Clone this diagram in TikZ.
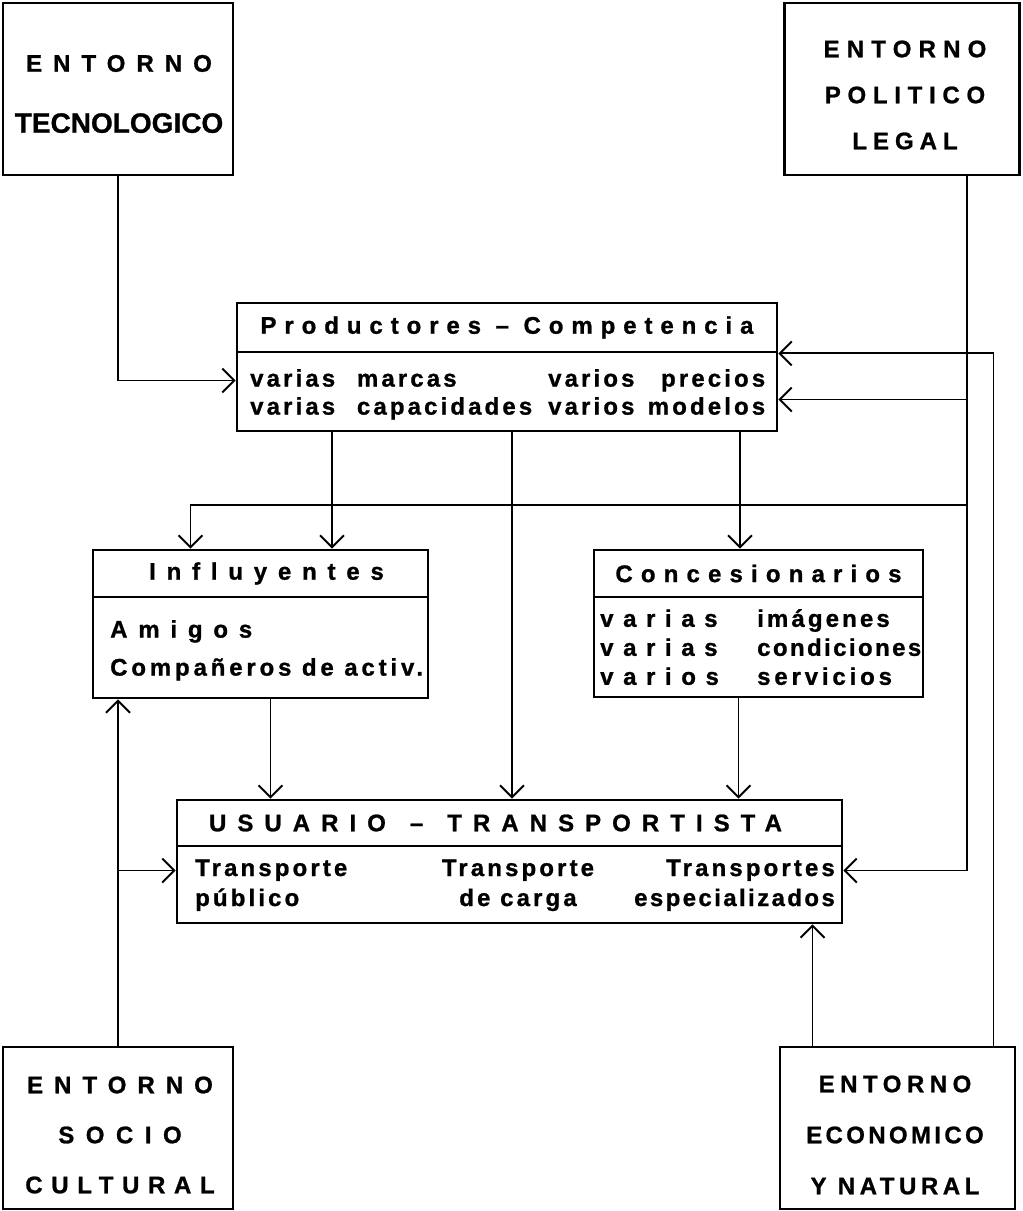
\documentclass[tikz,border=0pt]{standalone}
\usepackage{fontspec}
\setmainfont{Liberation Sans}[BoldFeatures={FakeBold=1}]
\usetikzlibrary{arrows.meta}
\newcommand{\spaced}[2]{{\addfontfeature{LetterSpace=#1}#2}}
\tikzset{
	box/.style={draw, line width=2.8pt, inner sep=0pt},
	conn/.style={line width=1.9pt, -{Straight Barb[length=12pt,width=24pt]}},
	lbl/.style={inner sep=0pt, font=\bfseries\fontsize{24}{28}\selectfont},
}

\begin{document}
\begin{tikzpicture}[x=1pt, y=-1pt]
		%%%%% START %%%%%
		\useasboundingbox (0,0) rectangle (1023,1211);
		
		\node[box, minimum width=230pt, minimum height=172pt, align=center, font=\bfseries\fontsize{24}{61}\selectfont] (tecno) at (118,89) {};
		\node[lbl, align=center, font=\bfseries\fontsize{24}{61}\selectfont] (tecnoL) at (119,94) {\spaced{46}{ENTORNO}\\{\fontsize{28}{61}\selectfont TECNOLOGICO}};
		\node[box, minimum width=235pt, minimum height=172pt, align=center, font=\bfseries\fontsize{24}{46}\selectfont] (polit) at (902,89) {};
		\node[lbl, align=center, font=\bfseries\fontsize{24}{46}\selectfont] (politL) at (905,95) {\spaced{30}{ENTORNO}\\\spaced{28}{POLITICO}\\\spaced{25}{LEGAL}};
		
		\node[box, lbl, minimum width=540pt, minimum height=49pt] (prodT) at (507,327.5) {\spaced{33}{Productores -- Competencia}};
		\node[box, minimum width=540pt, minimum height=79pt] (prod) at (507,391.5) {};
		\node[lbl, anchor=west] (prodA) at (250,395) {\begin{tabular}{@{}l@{}}\spaced{13}{varias\hspace{12pt} marcas}\\\spaced{13}{varias\hspace{12pt} capacidades}\end{tabular}};
		\node[lbl, anchor=west] (prodB) at (548,395) {\begin{tabular}{@{}p{217pt}@{}}\spaced{13}{varios\hfill precios}\\\spaced{13}{varios\hfill modelos}\end{tabular}};
		
		\node[box, lbl, minimum width=335pt, minimum height=47pt] (inflT) at (260.5,573.5) {\hspace*{12pt}\spaced{45}{Influyentes}};
		\node[box, minimum width=335pt, minimum height=101pt] (infl) at (260.5,647.5) {};
		\node[lbl, anchor=west, font=\bfseries\fontsize{24}{38}\selectfont] (inflA) at (110,649) {\begin{tabular}{@{}l@{}}\spaced{45}{Amigos}\\\spaced{16}{Compañeros de activ.}\end{tabular}};
		
		\node[box, lbl, minimum width=329pt, minimum height=47pt] (concT) at (758.5,573.5) {\spaced{34}{Concesionarios}};
		\node[box, minimum width=329pt, minimum height=100pt] (conc) at (758.5,647) {};
		\node[lbl, anchor=west, font=\bfseries\fontsize{24}{29}\selectfont] (concA) at (600,650) {\begin{tabular}{@{}l@{}}\spaced{40}{varias}\\\spaced{40}{varias}\\\spaced{40}{varios}\end{tabular}};
		\node[lbl, anchor=west, font=\bfseries\fontsize{24}{29}\selectfont] (concB) at (757,650) {\begin{tabular}{@{}l@{}}\spaced{13}{imágenes}\\\spaced{10}{condiciones}\\\spaced{16}{servicios}\end{tabular}};
		
		\node[box, lbl, minimum width=665pt, minimum height=46pt] (usuT) at (509.5,823) {\spaced{46}{USUARIO\quad--\quad TRANSPORTISTA}\hspace*{28pt}};
		\node[box, minimum width=665pt, minimum height=77pt] (usu) at (509.5,884.5) {};
		\node[lbl, anchor=west, font=\bfseries\fontsize{24}{30}\selectfont] (usuA) at (195,885) {\begin{tabular}{@{}l@{}}\spaced{13}{Transporte}\\\spaced{13}{público}\end{tabular}};
		\node[lbl, font=\bfseries\fontsize{24}{30}\selectfont] (usuB) at (518,885) {\begin{tabular}{@{}c@{}}\spaced{13}{Transporte}\\\spaced{13}{de carga}\end{tabular}};
		\node[lbl, anchor=east, font=\bfseries\fontsize{24}{30}\selectfont] (usuC) at (835,885) {\begin{tabular}{@{}r@{}}\spaced{13}{Transportes}\\\spaced{10}{especializados}\end{tabular}};
		
		\node[box, minimum width=230pt, minimum height=162pt] (socio) at (118,1128) {};
		\node[lbl, align=center, font=\bfseries\fontsize{24}{50}\selectfont] (socioL) at (120,1135) {\spaced{46}{ENTORNO}\\\spaced{48}{SOCIO}\\\spaced{36}{CULTURAL}};
		\node[box, minimum width=235pt, minimum height=162pt] (econ) at (897.5,1128) {};
		\node[lbl, align=center, font=\bfseries\fontsize{24}{51}\selectfont] (econL) at (895,1135) {\spaced{23}{ENTORNO}\\\spaced{14}{ECONOMICO}\\\spaced{19}{Y NATURAL}};
		
		% connectors
		\coordinate (polB) at ([xshift=65pt]polit.south);
		\coordinate (ecoA) at ([xshift=-85pt]econ.north);
		\coordinate (ecoB) at ([xshift=96pt]econ.north);
		\coordinate (pIn) at ([yshift=-8pt]prod.east);
		\coordinate (iIn) at ([xshift=-70pt]inflT.north);
		\coordinate (usuR) at ([yshift=14pt]usu.east);
		\coordinate (usuL) at ([yshift=14pt]usu.west);
		\coordinate (busY) at (0,505);
		\coordinate (pA) at ([xshift=-175pt]prod.south);
		\coordinate (pB) at ([xshift=5pt]prod.south);
		\coordinate (pC) at ([xshift=233pt]prod.south);
		\coordinate (iOut) at ([xshift=10pt]infl.south);
		\coordinate (cOut) at ([xshift=-20pt]conc.south);
		
		\draw[conn] (tecno.south) |- ([yshift=11pt]prod.west);
		\draw[conn] (polB) |- (usuR);
		\draw[conn] (polB |- pIn) -- (pIn);
		\draw[conn] (polB |- busY) -| (iIn);
		\draw[conn] (ecoB) |- (prodT.south east);
		\draw[conn] (ecoA) -- (ecoA |- usu.south);
		\draw[conn] (socio.north) -- (socio.north |- infl.south);
		\draw[conn] (socio.north |- usuL) -- (usuL);
		
		\draw[conn] (pA) -- (pA |- inflT.north);
		\draw[conn] (pB) -- (pB |- usuT.north);
		\draw[conn] (pC) -- (pC |- concT.north);
		\draw[conn] (iOut) -- (iOut |- usuT.north);
		\draw[conn] (cOut) -- (cOut |- usuT.north);
		
		%%%%% END %%%%%
\end{tikzpicture}
\end{document}
